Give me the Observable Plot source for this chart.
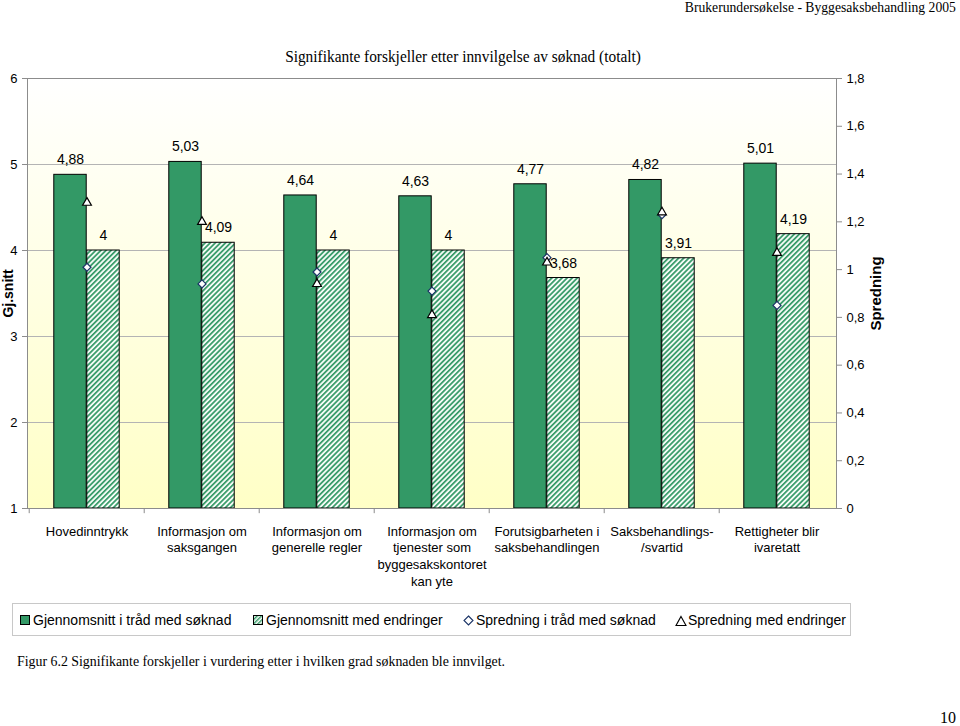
<!DOCTYPE html>
<html><head><meta charset="utf-8">
<script src="https://cdn.jsdelivr.net/npm/d3@7"></script>
<script src="https://cdn.jsdelivr.net/npm/@observablehq/plot@0.6"></script>
<style>
body{margin:0;background:#fff;}
#page{position:relative;width:960px;height:726px;overflow:hidden;font-family:"Liberation Sans",Arial,sans-serif;color:#000;}
.serif{font-family:"Liberation Serif","Times New Roman",serif;}
#header{position:absolute;right:4px;top:-1px;font-size:15px;white-space:nowrap;transform:scaleX(0.91);transform-origin:right center;}
#title{position:absolute;left:0;width:926px;top:48px;text-align:center;font-size:16px;white-space:nowrap;transform:scaleX(0.96);transform-origin:463px center;}
#chart{position:absolute;left:0;top:70px;}
#legend{position:absolute;left:12px;top:603px;width:839px;height:33px;border:1px solid #c8c8c8;box-sizing:border-box;}
.li{position:absolute;top:7px;font-size:14px;white-space:nowrap;line-height:18px;}
.li svg{position:absolute;top:4px;}
#caption{position:absolute;left:17px;top:654px;font-size:14px;white-space:nowrap;transform:scaleX(0.99);transform-origin:left center;}
#pageno{position:absolute;right:4px;top:709px;font-size:16px;}
</style></head><body>
<div id="page">
  <div id="header" class="serif">Brukerundersøkelse - Byggesaksbehandling 2005</div>
  <div id="title" class="serif">Signifikante forskjeller etter innvilgelse av søknad (totalt)</div>
  <div id="chart"></div>
  <div id="legend"></div>
  <div id="caption" class="serif">Figur 6.2 Signifikante forskjeller i vurdering etter i hvilken grad søknaden ble innvilget.</div>
  <div id="pageno" class="serif">10</div>
</div>
<script>
// ---- data ----
const categories = ["Hovedinntrykk","Informasjon om saksgangen","Informasjon om generelle regler","Informasjon om tjenester som byggesakskontoret kan yte","Forutsigbarheten i saksbehandlingen","Saksbehandlings-/svartid","Rettigheter blir ivaretatt"];
const tickLabels = ["Hovedinntrykk","Informasjon om\nsaksgangen","Informasjon om\ngenerelle regler","Informasjon om\ntjenester som\nbyggesakskontoret\nkan yte","Forutsigbarheten i\nsaksbehandlingen","Saksbehandlings-\n/svartid","Rettigheter blir\nivaretatt"];
const snittSoknad = [4.88, 5.03, 4.64, 4.63, 4.77, 4.82, 5.01];
const snittEndringer = [4, 4.09, 4, 4, 3.68, 3.91, 4.19];
const spredningSoknad = [1.01, 0.94, 0.99, 0.91, 1.05, 1.23, 0.85];
const spredningEndringer = [1.28, 1.20, 0.94, 0.81, 1.03, 1.24, 1.07];
const leftTicks = [1, 2, 3, 4, 5, 6];
const rightTicks = [0, 0.2, 0.4, 0.6, 0.8, 1, 1.2, 1.4, 1.6, 1.8];
const seriesNames = ["Gjennomsnitt i tråd med søknad","Gjennomsnitt med endringer","Spredning i tråd med søknad","Spredning med endringer"];

const GREEN = "#339966";
const DIAMOND_STROKE = "#1a3366";
const rightMax = 1.8, leftMin = 1, leftMax = 6;
const toLeft = s => leftMin + s * (leftMax - leftMin) / rightMax;
const fromLeft = y => (y - leftMin) * rightMax / (leftMax - leftMin);
const comma = v => String(Math.round(v * 100) / 100).replace(".", ",");

const rows = categories.map((c, i) => ({
  cat: c, soknad: snittSoknad[i], endr: snittEndringer[i],
  sprS: toLeft(spredningSoknad[i]), sprE: toLeft(spredningEndringer[i])
}));

const W = 960, H = 530, mL = 27, mR = 124, mT = 8, mB = 92;
const bw = (W - mL - mR) / categories.length;
const barW = 33;

const plot = Plot.plot({
  width: W, height: H,
  marginLeft: mL, marginRight: mR, marginTop: mT, marginBottom: mB,
  style: {fontFamily: "'Liberation Sans', Arial, sans-serif", background: "transparent", color: "#000", overflow: "visible"},
  x: {type: "band", domain: categories, padding: 0},
  y: {domain: [leftMin, leftMax]},
  marks: [
    Plot.frame({fill: "url(#bgGrad)", stroke: null}),
    Plot.gridY([2, 3, 4, 5], {stroke: "#b4b4b4", strokeOpacity: 1, strokeWidth: 1}),
    Plot.barY(rows, {x: "cat", y1: () => leftMin, y2: "soknad", fill: GREEN, stroke: "#000", strokeWidth: 1,
      insetLeft: bw / 2 - barW, insetRight: bw / 2}),
    Plot.barY(rows, {x: "cat", y1: () => leftMin, y2: "endr", fill: "url(#hatch)", stroke: "#000", strokeWidth: 1,
      insetLeft: bw / 2, insetRight: bw / 2 - barW}),
    Plot.text(rows, {x: "cat", y: "soknad", text: d => comma(d.soknad), dx: -barW / 2, dy: -15, fontSize: 14}),
    Plot.text(rows, {x: "cat", y: "endr", text: d => comma(d.endr), dx: barW / 2, dy: -15, fontSize: 14}),
    Plot.dot(rows, {x: "cat", y: "sprS", symbol: "diamond2", r: 3.6, fill: "#fff", stroke: DIAMOND_STROKE, strokeWidth: 1.2}),
    Plot.dot(rows, {x: "cat", y: "sprE", symbol: "triangle2", r: 4.2, fill: "#fff", stroke: "#000", strokeWidth: 1.2}),
    Plot.frame({stroke: "#8c8c8c", strokeWidth: 1}),
    Plot.ruleX(categories, {x: d => d, dx: -bw / 2, y1: leftMin, y2: leftMin - 0.06, stroke: "#8c8c8c"}),
    Plot.axisX({tickSize: 0, tickPadding: 15, fontSize: 13, lineHeight: 1.3, label: null,
      tickFormat: d => tickLabels[categories.indexOf(d)]}),
    Plot.axisY(leftTicks, {anchor: "left", tickSize: 5, tickPadding: 5, fontSize: 13, label: null, stroke: "#8c8c8c", tickFormat: d => String(d)}),
    Plot.axisY(rightTicks.map(toLeft), {anchor: "right", tickSize: 5, tickPadding: 5, fontSize: 13, label: null, stroke: "#8c8c8c",
      tickFormat: y => comma(Math.round(fromLeft(y) * 10) / 10)}),
    Plot.text(["Gj.snitt"], {frameAnchor: "left", dx: -19, rotate: -90, textAnchor: "middle", fontSize: 14, fontWeight: "bold"}),
    Plot.text(["Spredning"], {frameAnchor: "right", dx: 40, rotate: -90, textAnchor: "middle", fontSize: 15, fontWeight: "bold"})
  ]
});

const svg = d3.select(plot);
const defs = svg.insert("defs", ":first-child");
const grad = defs.append("linearGradient").attr("id", "bgGrad").attr("x1", 0).attr("y1", 0).attr("x2", 0).attr("y2", 1);
grad.append("stop").attr("offset", "0%").attr("stop-color", "#ffffff");
grad.append("stop").attr("offset", "100%").attr("stop-color", "#ffffc6");
const pat = defs.append("pattern").attr("id", "hatch").attr("patternUnits", "userSpaceOnUse")
  .attr("width", 3.6).attr("height", 3.6).attr("patternTransform", "rotate(45)");
pat.append("rect").attr("width", 3.6).attr("height", 3.6).attr("fill", "#f4fbf6");
pat.append("rect").attr("width", 1.7).attr("height", 3.6).attr("fill", GREEN);
document.getElementById("chart").appendChild(plot);

// ---- legend ----
const legend = document.getElementById("legend");
const icons = [
  `<svg width="11" height="11"><rect x="0.5" y="0.5" width="9" height="9" fill="${GREEN}" stroke="#000"/></svg>`,
  `<svg width="11" height="11"><defs><pattern id="hatchL" patternUnits="userSpaceOnUse" width="3" height="3" patternTransform="rotate(45)"><rect width="3" height="3" fill="#f4fbf6"/><rect width="1.4" height="3" fill="${GREEN}"/></pattern></defs><rect x="0.5" y="0.5" width="9" height="9" fill="url(#hatchL)" stroke="#000"/></svg>`,
  `<svg width="11" height="11"><path d="M5.5,1 L10,5.5 L5.5,10 L1,5.5Z" fill="#fff" stroke="${DIAMOND_STROKE}" stroke-width="1.1"/></svg>`,
  `<svg width="12" height="11"><path d="M6,1.5 L11,10.5 L1,10.5Z" fill="#fff" stroke="#000" stroke-width="1.1"/></svg>`
];
const lefts = [7, 240, 450, 662];
seriesNames.forEach((name, i) => {
  const d = document.createElement("div");
  d.className = "li";
  d.style.left = lefts[i] + "px";
  d.innerHTML = icons[i] + `<span style="margin-left:13px">${name}</span>`;
  legend.appendChild(d);
});
</script>
</body></html>
